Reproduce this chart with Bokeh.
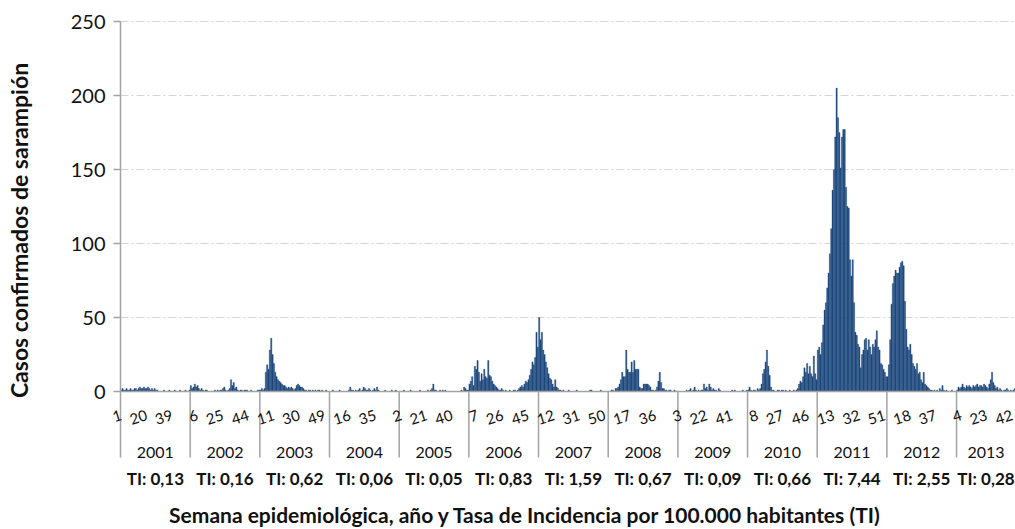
import math
from bokeh.plotting import figure
from bokeh.models import Range1d
from bokeh.core.properties import value
from bokeh.embed import file_html
from bokeh.resources import INLINE

# ---------------- data ----------------
years = ["2001", "2002", "2003", "2004", "2005", "2006", "2007",
         "2008", "2009", "2010", "2011", "2012", "2013"]
ti_labels = ["TI: 0,13", "TI: 0,16", "TI: 0,62", "TI: 0,06", "TI: 0,05",
             "TI: 0,83", "TI: 1,59", "TI: 0,67", "TI: 0,09", "TI: 0,66",
             "TI: 7,44", "TI: 2,55", "TI: 0,28"]
y_ticks = [0, 50, 100, 150, 200, 250]
x_title = "Semana epidemiológica, año y Tasa de Incidencia por 100.000 habitantes (TI)"
y_title = "Casos confirmados de sarampión"

y2001 = [1,2,1,1,2,1,1,2,1,1, 2,2,1,2,3,2,2,3,2,2, 3,2,1,2,1,2,1,1,0,0,
         0,0,1,0,0,0,1,0,0,0, 1,0,0,0,1,0,0,0,1,0, 0,1]
y2002 = [4,2,3,5,3,4,2,1,2,1, 0,1,1,0,0,0,0,0,1,0, 1,0,1,1,2,3,1,0,1,2,
         8,4,6,2,3,1,0,1,1,0, 1,1,1,0,0,1,0,0,0,0, 1,1]
y2003 = [1,2,1,2,13,18,15,28,36,25, 19,13,10,8,7,6,5,4,4,3, 2,3,2,3,2,1,2,4,5,4,
         3,3,2,1,1,0,1,1,0,1, 0,1,0,1,1,0,1,0,0,1, 0,0]
y2004 = [0,0,1,0,0,0,0,1,0,0, 0,0,0,0,1,3,1,1,0,1, 0,1,2,0,1,3,2,1,1,2,
         1,0,1,2,1,3,1,0,0,0, 0,1,0,0,0,0,1,0,0,1, 0,0]
y2005 = [0,0,0,1,0,0,0,0,1,0, 0,0,0,0,0,1,0,0,0,0, 0,1,0,1,2,5,1,1,0,0,
         1,0,1,0,1,0,0,0,0,0, 0,0,0,0,0,0,1,0,3,2, 1,1]
y2006 = [5,7,10,4,17,15,21,13,7,12, 8,15,10,9,21,11,10,7,5,4, 3,2,1,1,2,1,0,1,0,0,
         1,0,0,1,1,0,1,2,3,4, 3,5,7,6,8,11,15,20,18,23, 40,30]
y2007 = [50,35,40,28,25,20,16,12,9,8, 5,3,8,3,2,1,1,0,1,0, 0,0,1,0,0,0,0,0,1,0,
         0,0,0,0,0,0,0,0,1,1, 0,0,0,0,0,0,1,0,0,0, 0,0]
y2008 = [0,0,1,1,0,2,2,3,5,8, 13,10,10,28,15,13,13,20,13,21, 15,15,15,3,2,2,5,5,5,5,
         4,3,1,1,0,1,3,7,13,6, 2,2,1,1,0,1,1,0,0,1, 0,0]
y2009 = [0,0,0,0,0,0,1,0,1,2, 0,1,3,1,0,1,0,1,1,5, 2,3,1,5,3,1,2,1,1,0,
         2,1,0,0,0,0,0,0,0,0, 1,0,1,0,0,0,0,0,1,0, 0,1]
y2010 = [1,3,1,0,1,1,0,2,1,2, 5,12,15,20,28,17,11,3,1,1, 0,0,1,1,0,1,1,0,1,0,
         0,1,0,0,1,0,1,2,5,7, 6,10,16,13,19,12,17,12,10,24, 12,8]
y2011 = [28,30,25,33,45,55,60,70,80,93, 110,136,150,172,205,185,175,151,172,177,
         177,138,125,124,89,78,89,60,40,38, 32,30,16,25,28,35,36,28,35,30,
         25,32,30,35,41,30,28,19,18,15, 13,10]
y2012 = [10,18,35,59,73,78,82,80,80,84, 87,88,85,61,42,30,28,32,25,19,
         17,15,19,12,13,8,6,13,5,4, 3,2,1,1,0,1,0,1,0,2, 1,4,1,0,1,0,0,0,1,0, 0,0]
y2013 = [1,3,2,3,5,3,2,4,3,4, 3,2,4,3,4,5,3,4,4,3, 5,4,3,2,5,8,13,6,4,2,
         3,1,2,1,0,1,1,2,1,0, 1,0,1,2]

series = [y2001, y2002, y2003, y2004, y2005, y2006, y2007,
          y2008, y2009, y2010, y2011, y2012, y2013]
assert all(len(s) == 52 for s in series[:-1]), [len(s) for s in series]
assert len(series[-1]) == 44

WEEKS_PER_YEAR = 52
TICK_EVERY = 19

# ---------------- derived ----------------
xs, counts, week_no = [], [], []
for k, s in enumerate(series):
    for w, c in enumerate(s):
        xs.append(WEEKS_PER_YEAR * k + w)
        counts.append(c)
        week_no.append(w + 1)
n_total = len(xs)
X_END = n_total - 0.5

tick_idx = list(range(0, n_total, TICK_EVERY))
tick_txt = [str(week_no[i]) for i in tick_idx]

year_start = [WEEKS_PER_YEAR * k - 0.5 for k in range(len(series))]
year_center = [WEEKS_PER_YEAR * k + (len(s) - 1) / 2 for k, s in enumerate(series)]

# ---------------- layout (pixels) ----------------
W, H = 1015, 529
PLOT_LEFT_PX, PLOT_RIGHT_PX = 120, 1015    # x positions of the axis and the last bar edge
ZERO_PX, TOP_PX = 391, 21                  # y positions of 0 and 250
Y_MAX = 250
PXW = (PLOT_RIGHT_PX - PLOT_LEFT_PX) / n_total     # pixels per week
PXU = (ZERO_PX - TOP_PX) / Y_MAX                   # pixels per case


def xpx(px):
    return -0.5 + (px - PLOT_LEFT_PX) / PXW


def ypx(py):
    return (ZERO_PX - py) / PXU


GRAY = "#A3A3A3"
GRID = "#D4D4D4"
BAR = "#1F497D"
TXT = "#111111"
FONT = value("Lato")

p = figure(width=W, height=H,
           x_range=Range1d(xpx(0), X_END), y_range=Range1d(ypx(H), ypx(0)),
           x_axis_type=None, y_axis_type=None,
           output_backend="svg", toolbar_location=None,
           min_border=0)
p.outline_line_color = None

# grid lines (dash-dot)
p.segment(x0=[-0.5] * 5, y0=y_ticks[1:], x1=[X_END] * 5, y1=y_ticks[1:],
          line_color=GRID, line_width=1, line_dash="8 3 2 3")

# bars
p.vbar(x=xs, top=counts, width=0.9, fill_color=BAR, line_color=BAR, line_width=0.4)

# y axis line (continues down as the first year separator) and tick marks
p.segment(x0=[-0.5], y0=[Y_MAX], x1=[-0.5], y1=[ypx(457)], line_color=GRAY, line_width=1.5)
p.segment(x0=[xpx(113)] * len(y_ticks), y0=y_ticks, x1=[-0.5] * len(y_ticks), y1=y_ticks,
          line_color=GRAY, line_width=1.5)
p.text(x=[xpx(105)] * len(y_ticks), y=y_ticks, text=[str(t) for t in y_ticks],
       text_align="right", text_baseline="middle",
       text_font=FONT, text_font_size="20px", text_color=TXT)

# x axis line and year separators
p.segment(x0=[-0.5], y0=[0], x1=[X_END], y1=[0], line_color=GRAY, line_width=1.5)
p.segment(x0=year_start[1:], y0=[0] * (len(year_start) - 1), x1=year_start[1:],
          y1=[ypx(457)] * (len(year_start) - 1), line_color=GRAY, line_width=1.5)

# week tick labels (rotated, right end at the bar)
p.text(x=tick_idx, y=[ypx(414)] * len(tick_idx), text=tick_txt,
       angle=0.3, text_align="right", text_baseline="middle",
       text_font=FONT, text_font_size="15px", text_color=TXT)

# year labels (bottom is cut off, as in the original)
p.text(x=year_center, y=[ypx(446)] * len(years), text=years,
       text_align="center", text_baseline="top",
       text_font=FONT, text_font_size="16px", text_color=TXT)
p.quad(left=[xpx(0)], right=[X_END], top=[ypx(457.5)], bottom=[ypx(468)],
       fill_color="white", line_color=None)

# incidence labels
p.text(x=year_center, y=[ypx(478)] * len(ti_labels), text=ti_labels,
       text_align="center", text_baseline="middle",
       text_font=FONT, text_font_size="17px", text_font_style="bold", text_color=TXT)

# axis titles
p.text(x=[xpx(525)], y=[ypx(514)], text=[x_title],
       text_align="center", text_baseline="middle",
       text_font=FONT, text_font_size="21px", text_font_style="bold", text_color=TXT)
p.text(x=[xpx(18)], y=[ypx(230)], text=[y_title], angle=math.pi / 2,
       text_align="center", text_baseline="middle",
       text_font=FONT, text_font_size="23px", text_font_style="bold", text_color=TXT)

open("out.html", "w").write(file_html(p, INLINE))
